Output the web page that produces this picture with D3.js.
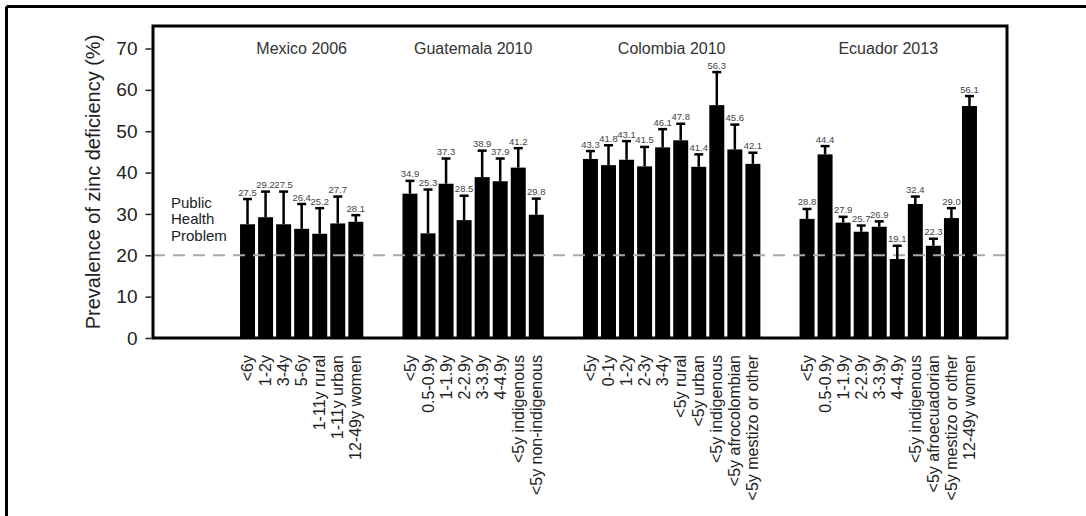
<!DOCTYPE html>
<html><head><meta charset="utf-8">
<script src="https://cdn.jsdelivr.net/npm/d3@7"></script>
<style>body{margin:0;background:#fff} svg{display:block;font-family:Arial,"Liberation Sans",sans-serif}</style>
</head><body><svg id="c" width="1086" height="516"></svg>
<script>
const groupNames = ["Mexico 2006", "Guatemala 2010", "Colombia 2010", "Ecuador 2013"];
const mexicoLabels = ["<6y", "1-2y", "3-4y", "5-6y", "1-11y rural", "1-11y urban", "12-49y women"];
const mexicoValues = [27.5, 29.2, 27.5, 26.4, 25.2, 27.7, 28.1];
const mexicoUpper  = [33.6, 35.4, 35.4, 32.4, 31.4, 34.2, 29.7];
const guatemalaLabels = ["<5y", "0.5-0.9y", "1-1.9y", "2-2.9y", "3-3.9y", "4-4.9y", "<5y indigenous", "<5y non-indigenous"];
const guatemalaValues = [34.9, 25.3, 37.3, 28.5, 38.9, 37.9, 41.2, 29.8];
const guatemalaUpper  = [38.0, 35.9, 43.4, 34.4, 45.3, 43.4, 45.9, 33.7];
const colombiaLabels = ["<5y", "0-1y", "1-2y", "2-3y", "3-4y", "<5y rural", "<5y urban", "<5y indigenous", "<5y afrocolombian", "<5y mestizo or other"];
const colombiaValues = [43.3, 41.8, 43.1, 41.5, 46.1, 47.8, 41.4, 56.3, 45.6, 42.1];
const colombiaUpper  = [45.2, 46.6, 47.6, 46.2, 50.5, 51.8, 44.4, 64.3, 51.6, 44.8];
const ecuadorLabels = ["<5y", "0.5-0.9y", "1-1.9y", "2-2.9y", "3-3.9y", "4-4.9y", "<5y indigenous", "<5y afroecuadorian", "<5y mestizo or other", "12-49y women"];
const ecuadorValues = [28.8, 44.4, 27.9, 25.7, 26.9, 19.1, 32.4, 22.3, 29.0, 56.1];
const ecuadorUpper  = [31.2, 46.4, 29.3, 27.2, 28.2, 22.3, 34.2, 24.0, 31.4, 58.5];
const yTicks = [0, 10, 20, 30, 40, 50, 60, 70];
const thresholdValue = 20;
const thresholdText = ["Public", "Health", "Problem"];
const yTitle = "Prevalence of zinc deficiency (%)";

const groupsData = [
  {name: groupNames[0], labels: mexicoLabels, values: mexicoValues, upper: mexicoUpper},
  {name: groupNames[1], labels: guatemalaLabels, values: guatemalaValues, upper: guatemalaUpper},
  {name: groupNames[2], labels: colombiaLabels, values: colombiaValues, upper: colombiaUpper},
  {name: groupNames[3], labels: ecuadorLabels, values: ecuadorValues, upper: ecuadorUpper}
];

// build slot list with 2 empty slots between groups
const slots = [];
const bars = [];
groupsData.forEach((g, gi) => {
  if (gi > 0) { slots.push("gap" + gi + "a"); slots.push("gap" + gi + "b"); }
  g.labels.forEach((l, i) => {
    const key = gi + "_" + i;
    slots.push(key);
    bars.push({key, group: gi, label: l, value: g.values[i], upper: g.upper[i]});
  });
});

const svg = d3.select("#c");
const plot = {left: 153, right: 1007, top: 26, bottom: 338};

const x = d3.scaleBand().domain(slots).range([238.5, 978.5]).paddingInner(0.17).paddingOuter(0.085);
const y = d3.scaleLinear().domain([0, 70]).range([plot.bottom, 48.5]);

// outer figure frame (top + left)
svg.append("line").attr("x1", 6.5).attr("x2", 1086).attr("y1", 6.5).attr("y2", 6.5)
  .attr("stroke", "#000").attr("stroke-width", 3);
svg.append("line").attr("x1", 6.5).attr("x2", 6.5).attr("y1", 6.5).attr("y2", 516)
  .attr("stroke", "#000").attr("stroke-width", 3);

// bars
svg.append("g").selectAll("rect").data(bars).join("rect")
  .attr("x", d => x(d.key)).attr("width", x.bandwidth())
  .attr("y", d => y(d.value)).attr("height", d => y(0) - y(d.value))
  .attr("fill", "#000");

// threshold dashed line
svg.append("line")
  .attr("x1", plot.left).attr("x2", plot.right)
  .attr("y1", y(thresholdValue)).attr("y2", y(thresholdValue))
  .attr("stroke", "#a8a8a8").attr("stroke-width", 2)
  .attr("stroke-dasharray", "12,8");

// error bars
const eb = svg.append("g").attr("stroke", "#000");
eb.selectAll("line.v").data(bars).join("line").attr("class", "v")
  .attr("x1", d => x(d.key) + x.bandwidth() / 2).attr("x2", d => x(d.key) + x.bandwidth() / 2)
  .attr("y1", d => y(d.value)).attr("y2", d => y(d.upper)).attr("stroke-width", 2.5);
eb.selectAll("line.c").data(bars).join("line").attr("class", "c")
  .attr("x1", d => x(d.key) + x.bandwidth() / 2 - 4.5).attr("x2", d => x(d.key) + x.bandwidth() / 2 + 4.5)
  .attr("y1", d => y(d.upper)).attr("y2", d => y(d.upper)).attr("stroke-width", 2.5);

// value labels
svg.append("g").selectAll("text").data(bars).join("text")
  .attr("x", d => x(d.key) + x.bandwidth() / 2).attr("y", d => y(d.upper) - 3.5)
  .attr("text-anchor", "middle").attr("font-size", 9.5).attr("fill", "#444")
  .text(d => d.value.toFixed(1));

// plot frame
svg.append("rect").attr("x", plot.left).attr("y", plot.top)
  .attr("width", plot.right - plot.left).attr("height", plot.bottom - plot.top)
  .attr("fill", "none").attr("stroke", "#000").attr("stroke-width", 3);

// y axis
const yAxis = svg.append("g").attr("transform", `translate(${plot.left - 1.5},0)`)
  .call(d3.axisLeft(y).tickValues(yTicks).tickSize(6).tickPadding(8).tickFormat(d3.format("d")));
yAxis.select(".domain").remove();
yAxis.selectAll(".tick line").attr("stroke", "#222").attr("stroke-width", 1.5);
yAxis.selectAll(".tick text").attr("font-size", 19).attr("fill", "#222")
  .attr("font-family", "Arial, 'Liberation Sans', sans-serif");

// y title
svg.append("text").attr("transform", "translate(100,182) rotate(-90)")
  .attr("text-anchor", "middle").attr("font-size", 20).attr("fill", "#222")
  .text(yTitle);

// x tick labels (rotated)
svg.append("g").selectAll("text").data(bars).join("text")
  .attr("transform", d => `translate(${x(d.key) + x.bandwidth() / 2},355) rotate(-90)`)
  .attr("text-anchor", "end").attr("dy", "0.35em")
  .attr("font-size", 16).attr("fill", "#222")
  .text(d => d.label);

// group titles
svg.append("g").selectAll("text").data(groupsData).join("text")
  .attr("x", (g, gi) => {
    const first = x(gi + "_0");
    const last = x(gi + "_" + (g.labels.length - 1)) + x.bandwidth();
    return (first + last) / 2;
  })
  .attr("y", 54).attr("text-anchor", "middle").attr("font-size", 16).attr("fill", "#333")
  .text(g => g.name);

// public health problem text
svg.append("g").selectAll("text").data(thresholdText).join("text")
  .attr("x", 171).attr("y", (d, i) => 208 + i * 16.3)
  .attr("font-size", 15).attr("fill", "#222").text(d => d);
</script></body></html>
